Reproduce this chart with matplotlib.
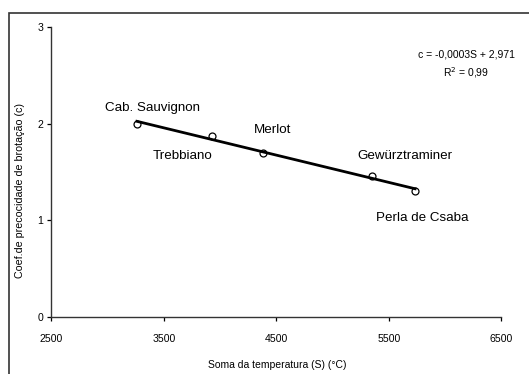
import numpy as np
import matplotlib.pyplot as plt
from matplotlib.patches import Rectangle

plt.rcParams['font.family'] = ['Liberation Sans', 'DejaVu Sans']

# dati
cultivar = ['Cab. Sauvignon', 'Trebbiano', 'Merlot', 'Gewürztraminer', 'Perla de Csaba']
soma = [3260, 3930, 4380, 5350, 5735]
coef = [2.00, 1.87, 1.70, 1.46, 1.30]
xticks = [2500, 3500, 4500, 5500, 6500]
yticks = [0, 1, 2, 3]

# posizione delle etichette (offset in punti)
offs = [(11.5, 11.5), (-21.5, -14.5), (7, 16), (24, 14.5), (5, -19.5)]

fig = plt.figure(figsize=(5.29, 3.74), dpi=100)
ax = fig.add_axes([0.0973, 0.1524, 0.85, 0.7754])

ax.plot(soma, coef, 'o', mfc='white', mec='black', ms=5, mew=0.9, zorder=2)

p = np.polyfit(soma, coef, 1)
xs = np.array([min(soma), max(soma)])
ax.plot(xs, np.polyval(p, xs), 'k-', lw=2, zorder=3)

for nome, x, y, o in zip(cultivar, soma, coef, offs):
    ax.annotate(nome, (x, y), xytext=o, textcoords='offset points',
                ha='center', va='center', fontsize=9.6)

ax.text(0.923, 0.869, 'c = -0,0003S + 2,971\nR$^2$ = 0,99', transform=ax.transAxes,
        ha='center', va='center', fontsize=7.5, linespacing=1.5)

ax.set_xlim(2500, 6500)
ax.set_ylim(0, 3)
ax.set_xticks(xticks)
ax.set_yticks(yticks)
ax.tick_params(direction='out', length=3, width=0.9, labelsize=7.6)
ax.tick_params(axis='y', pad=3)
ax.tick_params(axis='x', pad=9)
for s in ['top', 'right']:
    ax.spines[s].set_visible(False)
for s in ['left', 'bottom']:
    ax.spines[s].set_linewidth(1.0)
    ax.spines[s].set_color('#333333')

ax.set_xlabel('Soma da temperatura (S) (°C)', fontsize=7.5)
ax.set_ylabel('Coef.de precocidade de brotação (c)', fontsize=7.7)
ax.yaxis.label.set_va('center')
ax.xaxis.label.set_va('center')
ax.xaxis.set_label_coords(277 / 529, 1 - 365 / 374, transform=fig.transFigure)
ax.yaxis.set_label_coords(20 / 529, 1 - 190 / 374, transform=fig.transFigure)

# cornice esterna
fig.add_artist(Rectangle((8.5 / 529, -0.1), 1.2, 1.1 - 13.5 / 374, transform=fig.transFigure,
                         fill=False, ec='#333333', lw=1.2))

fig.savefig('out.png', dpi=100)
